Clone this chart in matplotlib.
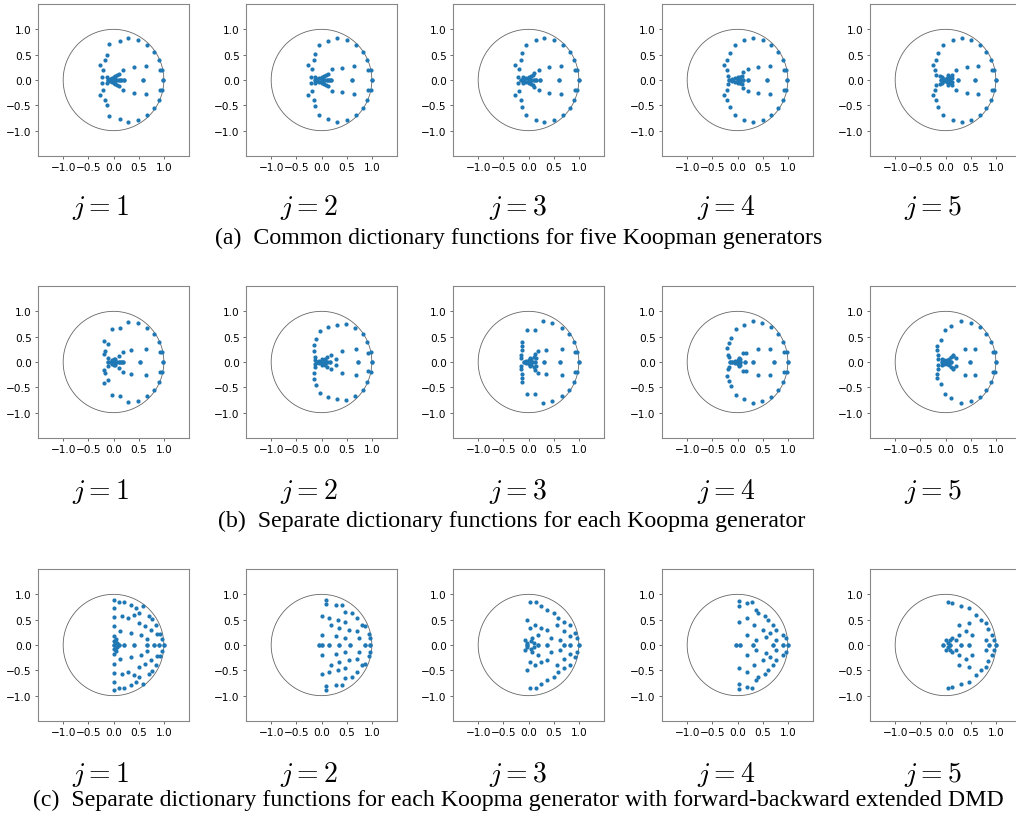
import numpy as np
import matplotlib
matplotlib.use("Agg")
import matplotlib.pyplot as plt

# eigenvalues (upper half plane, conjugates drawn too)
# row (a): common dictionary
a1_re = [-0.08, 0.12, 0.29, 0.49, 0.67, 0.81, 0.91, 0.93, 0.97, 0.99,
         -0.13, -0.17, -0.27, -0.20, -0.22, -0.13,
         0.19, 0.40, 0.65, 0.59, 0.21,
         -0.07, -0.03, 0.00, 0.03, 0.06, 0.10, 0.00, 0.05, 0.10, 0.14, -0.10, 0.03]
a1_im = [0.72, 0.76, 0.83, 0.79, 0.70, 0.56, 0.39, 0.19, 0.20, 0.00,
         0.50, 0.39, 0.29, 0.20, 0.05, 0.05,
         0.20, 0.25, 0.27, 0.00, 0.00,
         0.02, 0.03, 0.05, 0.07, 0.09, 0.12, 0.00, 0.00, 0.00, 0.00, 0.00, 0.02]

a2_re = [-0.05, 0.13, 0.30, 0.51, 0.68, 0.82, 0.91, 0.93, 0.98, 1.00,
         -0.13, -0.15, -0.27, -0.19, -0.21, -0.12,
         0.20, 0.41, 0.65, 0.61, 0.18,
         -0.08, -0.04, 0.00, 0.04, 0.08, 0.12, 0.00, 0.05, 0.10, 0.15, -0.13, 0.03]
a2_im = [0.70, 0.77, 0.83, 0.79, 0.70, 0.56, 0.39, 0.19, 0.20, 0.00,
         0.52, 0.40, 0.29, 0.21, 0.05, 0.05,
         0.21, 0.24, 0.27, 0.00, 0.00,
         0.02, 0.03, 0.05, 0.07, 0.10, 0.12, 0.00, 0.00, 0.00, 0.00, 0.00, 0.02]

a3_re = [-0.05, 0.14, 0.31, 0.51, 0.68, 0.82, 0.91, 0.93, 0.97, 1.00,
         -0.12, -0.15, -0.27, -0.18, -0.21, -0.11,
         0.21, 0.41, 0.65, 0.60, 0.22,
         -0.08, -0.04, 0.00, 0.04, 0.08, 0.11, 0.00, 0.05, 0.10, 0.15, -0.14, 0.03]
a3_im = [0.70, 0.78, 0.82, 0.79, 0.70, 0.56, 0.39, 0.19, 0.20, 0.00,
         0.53, 0.39, 0.30, 0.21, 0.05, 0.05,
         0.20, 0.25, 0.27, 0.00, 0.00,
         0.02, 0.03, 0.05, 0.08, 0.10, 0.14, 0.00, 0.00, 0.00, 0.00, 0.00, 0.02]

a4_re = [-0.05, 0.13, 0.31, 0.51, 0.67, 0.81, 0.91, 0.93, 0.97, 0.99,
         -0.14, -0.20, -0.27, -0.21, -0.19, -0.17,
         0.21, 0.41, 0.64, 0.59, 0.21, 0.11, 0.09,
         -0.10, -0.05, 0.00, 0.05, 0.00, 0.05, 0.10, -0.10]
a4_im = [0.70, 0.78, 0.83, 0.79, 0.70, 0.56, 0.39, 0.19, 0.20, 0.00,
         0.54, 0.39, 0.30, 0.20, 0.07, 0.00,
         0.21, 0.25, 0.27, 0.00, 0.00, 0.15, 0.07,
         0.02, 0.04, 0.06, 0.05, 0.00, 0.00, 0.00, 0.00]

a5_re = [-0.05, 0.14, 0.33, 0.51, 0.68, 0.81, 0.91, 0.93, 0.97, 1.00,
         -0.15, -0.18, -0.25, -0.21, -0.19,
         0.21, 0.43, 0.65, 0.59, 0.24, 0.13, 0.12,
         -0.10, -0.06, -0.03, 0.03, 0.06, 0.04, 0.00, 0.05, -0.08, 0.08]
a5_im = [0.70, 0.78, 0.83, 0.79, 0.70, 0.56, 0.39, 0.19, 0.20, 0.00,
         0.54, 0.40, 0.30, 0.20, 0.10,
         0.20, 0.25, 0.27, 0.00, 0.00, 0.10, 0.04,
         0.08, 0.05, 0.02, 0.03, 0.06, 0.10, 0.00, 0.00, 0.00, 0.00]

# row (b): separate dictionaries
b1_re = [-0.03, 0.13, 0.28, 0.49, 0.67, 0.81, 0.91, 0.93, 0.97, 0.99,
         -0.19, -0.10, -0.17, -0.18, -0.11, -0.10,
         0.19, 0.34, 0.64, 0.53, 0.19, 0.10,
         0.00, 0.03, -0.03, 0.00, 0.05, 0.10, 0.15, -0.05, 0.03]
b1_im = [0.66, 0.67, 0.78, 0.76, 0.68, 0.55, 0.39, 0.20, 0.20, 0.00,
         0.42, 0.36, 0.21, 0.16, 0.08, 0.00,
         0.19, 0.24, 0.25, 0.00, 0.00, 0.11,
         0.00, 0.02, 0.03, 0.05, 0.00, 0.00, 0.00, 0.00, 0.06]

b2_re = [-0.03, 0.13, 0.30, 0.49, 0.67, 0.82, 0.91, 0.93, 0.98, 1.00,
         -0.10, -0.15, -0.15, -0.13, -0.13,
         0.19, 0.28, 0.16, 0.40, 0.69, 0.73,
         0.00, 0.04, -0.04, 0.00, 0.07, 0.05, 0.10, -0.08, 0.10]
b2_im = [0.62, 0.69, 0.74, 0.75, 0.68, 0.55, 0.39, 0.18, 0.20, 0.00,
         0.45, 0.33, 0.21, 0.10, 0.03,
         0.14, 0.06, 0.00, 0.22, 0.26, 0.00,
         0.00, 0.02, 0.02, 0.05, 0.06, 0.00, 0.00, 0.00, 0.10]

b3_re = [-0.03, 0.13, 0.29, 0.47, 0.67, 0.81, 0.91, 0.93, 0.97, 1.00,
         -0.13, -0.13, -0.13, -0.15, -0.15,
         0.19, 0.35, 0.67, 0.62, 0.30, 0.15,
         -0.05, 0.00, 0.05, 0.10, 0.13, 0.00, 0.06, 0.12, -0.08, 0.03]
b3_im = [0.63, 0.64, 0.80, 0.76, 0.68, 0.55, 0.39, 0.19, 0.19, 0.00,
         0.40, 0.31, 0.24, 0.13, 0.07,
         0.21, 0.24, 0.25, 0.00, 0.00, 0.08,
         0.02, 0.03, 0.05, 0.10, 0.15, 0.00, 0.00, 0.00, 0.00, 0.08]

b4_re = [-0.03, 0.13, 0.31, 0.49, 0.67, 0.81, 0.91, 0.93, 0.99, 1.00,
         -0.13, -0.17, -0.21, -0.18, -0.17, -0.15,
         0.11, 0.17, 0.41, 0.64, 0.72, 0.31, 0.14,
         -0.05, 0.00, 0.03, 0.00, 0.05, -0.10, 0.05]
b4_im = [0.65, 0.74, 0.80, 0.76, 0.69, 0.55, 0.39, 0.20, 0.20, 0.00,
         0.47, 0.38, 0.28, 0.14, 0.09, 0.00,
         0.17, 0.17, 0.26, 0.25, 0.00, 0.00, 0.00,
         0.02, 0.03, 0.07, 0.00, 0.00, 0.00, 0.05]

b5_re = [-0.01, 0.10, 0.31, 0.51, 0.68, 0.81, 0.91, 0.94, 0.98, 1.00,
         -0.09, -0.17, -0.17, -0.14, -0.15,
         0.15, 0.21, 0.14, 0.39, 0.58, 0.49, 0.10,
         -0.06, -0.03, 0.03, 0.06, 0.00, 0.05, -0.06, 0.10]
b5_im = [0.63, 0.72, 0.80, 0.77, 0.69, 0.56, 0.39, 0.20, 0.20, 0.00,
         0.43, 0.32, 0.23, 0.13, 0.05,
         0.14, 0.07, 0.12, 0.25, 0.25, 0.00, 0.10,
         0.06, 0.03, 0.03, 0.06, 0.00, 0.00, 0.00, 0.00]

# row (c): separate dictionaries, forward-backward EDMD
c1_re = [0.00, 0.00, 0.00, 0.00, 0.00, 0.00, 0.00,
         0.10, 0.21, 0.34, 0.45, 0.51, 0.58, 0.71, 0.76, 0.84, 0.93, 0.97, 1.00,
         0.16, 0.29, 0.41, 0.50, 0.63, 0.74, 0.87, 0.13, 0.34, 0.54, 0.67, 0.05,
         0.21, 0.41, 0.67, 0.80, 0.91, 0.10, 0.03, 0.06]
c1_im = [0.89, 0.73, 0.55, 0.37, 0.18, 0.07, 0.00,
         0.84, 0.84, 0.78, 0.73, 0.64, 0.76, 0.57, 0.51, 0.39, 0.22, 0.11, 0.00,
         0.58, 0.53, 0.60, 0.43, 0.38, 0.29, 0.22, 0.27, 0.24, 0.20, 0.12, 0.12,
         0.00, 0.00, 0.00, 0.00, 0.00, 0.00, 0.07, 0.04]

c2_re = [0.08, 0.08, 0.28, 0.41, 0.47, 0.60, 0.00, 0.14, 0.32, 0.47, 0.71, 0.80,
         0.87, 0.18, 0.34, 0.54, 0.71, 0.95, 0.00, 0.28, 0.47, 0.74, 0.97,
         0.00, 0.14, 0.34, 0.57, 0.87, 0.97, -0.05]
c2_im = [0.88, 0.80, 0.78, 0.78, 0.66, 0.63, 0.57, 0.53, 0.50, 0.45, 0.53, 0.40,
         0.37, 0.40, 0.34, 0.30, 0.27, 0.22, 0.20, 0.17, 0.14, 0.14, 0.14,
         0.00, 0.00, 0.00, 0.00, 0.00, 0.00, 0.00]

c3_re = [0.02, 0.15, 0.24, 0.37, 0.50, 0.59, 0.70, 0.83, 0.93, 0.96, 1.00,
         -0.02, 0.02, 0.12, 0.24, 0.37, 0.57, 0.70, 0.83, 0.18, 0.44, 0.63,
         -0.06, -0.02, 0.05, 0.11, 0.18, 0.37, 0.70, 0.83, -0.03, 0.07]
c3_im = [0.84, 0.84, 0.76, 0.70, 0.63, 0.53, 0.45, 0.40, 0.24, 0.14, 0.00,
         0.50, 0.34, 0.40, 0.34, 0.30, 0.40, 0.27, 0.17, 0.20, 0.14, 0.10,
         0.10, 0.04, 0.07, 0.04, 0.00, 0.00, 0.00, 0.00, 0.00, 0.14]

c4_re = [0.02, 0.18, 0.02, 0.28, 0.37, 0.41, 0.54, 0.60, 0.70, 0.77, 0.90, 0.96, 1.00,
         0.02, 0.18, 0.33, 0.51, 0.64, 0.77, 0.18, 0.37, 0.05, 0.31, 0.70, 0.90,
         -0.02, 0.57]
c4_im = [0.86, 0.82, 0.76, 0.84, 0.70, 0.63, 0.57, 0.50, 0.40, 0.30, 0.20, 0.14, 0.00,
         0.45, 0.53, 0.40, 0.30, 0.24, 0.10, 0.20, 0.10, 0.00, 0.00, 0.00, 0.00,
         0.00, 0.16]

c5_re = [0.04, 0.13, 0.31, 0.47, 0.60, 0.71, 0.80, 0.84, 0.93, 0.97, 1.00,
         0.27, 0.47, 0.40, 0.53, 0.27, 0.20, 0.80, 0.87, 0.47, 0.31, 0.09,
         0.00, 0.04, 0.09, -0.04, 0.13]
c5_im = [0.84, 0.83, 0.76, 0.73, 0.60, 0.50, 0.43, 0.32, 0.20, 0.10, 0.00,
         0.40, 0.43, 0.27, 0.20, 0.20, 0.10, 0.10, 0.00, 0.00, 0.00, 0.09,
         0.10, 0.04, 0.00, 0.00, 0.14]

panels = [
    [(a1_re, a1_im), (a2_re, a2_im), (a3_re, a3_im), (a4_re, a4_im), (a5_re, a5_im)],
    [(b1_re, b1_im), (b2_re, b2_im), (b3_re, b3_im), (b4_re, b4_im), (b5_re, b5_im)],
    [(c1_re, c1_im), (c2_re, c2_im), (c3_re, c3_im), (c4_re, c4_im), (c5_re, c5_im)],
]
j_labels = ["$j = 1$", "$j = 2$", "$j = 3$", "$j = 4$", "$j = 5$"]
captions = [
    "(a)  Common dictionary functions for five Koopman generators",
    "(b)  Separate dictionary functions for each Koopma generator",
    "(c)  Separate dictionary functions for each Koopma generator with forward-backward extended DMD",
]
ticks = [-1.0, -0.5, 0.0, 0.5, 1.0]

W, H = 1016, 820
plt.rcParams["mathtext.fontset"] = "cm"
fig = plt.figure(figsize=(W / 100, H / 100), dpi=100)

lefts = [38, 246, 453, 662, 870]
tops = [5, 287, 570]
ax_w, ax_h = 151, 152
jl_x = [100, 309, 518, 726, 933]
jl_y = [208, 492, 775]
cap_y = [238, 521, 800]
cap_x = [519, 512, 518]

theta = np.linspace(0, 2 * np.pi, 400)

for r in range(3):
    for c in range(5):
        ax = fig.add_axes([lefts[c] / W, 1 - (tops[r] + ax_h) / H, ax_w / W, ax_h / H])
        ax.plot(np.cos(theta), np.sin(theta), color="#666666", lw=0.6)
        re, im = panels[r][c]
        re = np.array(re)
        im = np.array(im)
        ax.scatter(np.concatenate([re, re]), np.concatenate([im, -im]),
                   s=9, color="#1f77b4", linewidths=0, zorder=3)
        ax.set_xlim(-1.5, 1.5)
        ax.set_ylim(-1.5, 1.5)
        ax.set_xticks(ticks)
        ax.set_yticks(ticks)
        ax.tick_params(labelsize=7.6, length=2.5, width=0.6, pad=2, color="#555555")
        for sp in ax.spines.values():
            sp.set_color("#888888")
            sp.set_linewidth(0.8)
    for c in range(5):
        fig.text(jl_x[c] / W, 1 - jl_y[r] / H, j_labels[c], fontsize=20,
                 ha="center", va="center")
    fig.text(cap_x[r] / W, 1 - cap_y[r] / H, captions[r], fontsize=17.2,
             family="Liberation Serif", ha="center", va="center")

fig.savefig("out.png", dpi=100)
